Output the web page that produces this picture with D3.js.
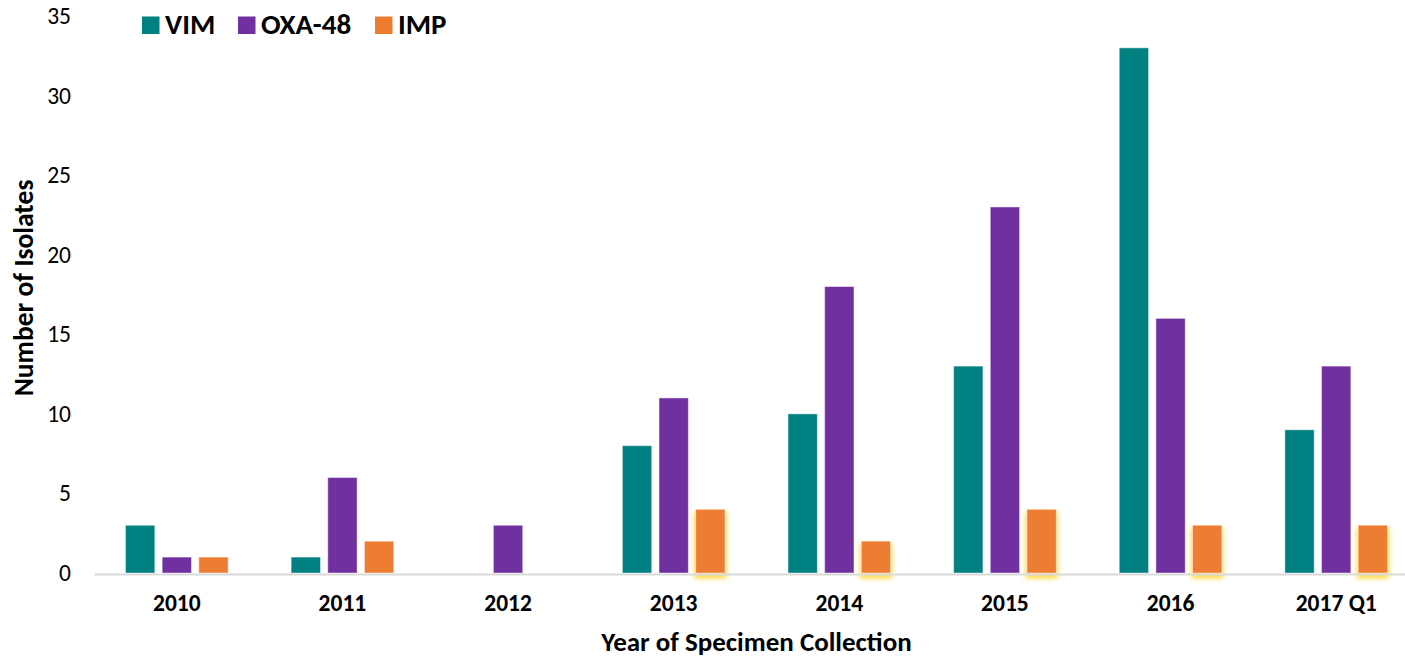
<!DOCTYPE html>
<html>
<head>
<meta charset="utf-8">
<script src="https://cdn.jsdelivr.net/npm/d3@7/dist/d3.min.js"></script>
<style>
  html, body { margin: 0; padding: 0; background: #fff; }
  svg { display: block; font-family: Carlito, Calibri, "Open Sans", sans-serif; }
</style>
</head>
<body>
<svg id="chart" width="1405" height="657"></svg>
<script>
// Carbapenemase isolates by year of specimen collection
const categories = ["2010", "2011", "2012", "2013", "2014", "2015", "2016", "2017 Q1"];
const seriesNames = ["VIM", "OXA-48", "IMP"];
const vimValues   = [3, 1, 0, 8, 10, 13, 33, 9];
const oxaValues   = [1, 6, 3, 11, 18, 23, 16, 13];
const impValues   = [1, 2, 0, 4, 2, 4, 3, 3];
const yTicks      = [0, 5, 10, 15, 20, 25, 30, 35];
const colors      = ["#008080", "#7030A0", "#ED7D31"];
// Categories whose IMP bars carry a highlight glow
const highlighted = ["2013", "2014", "2015", "2016", "2017 Q1"];

const seriesValues = [vimValues, oxaValues, impValues];
const rows = categories.map((c, i) => ({
  category: c,
  values: seriesNames.map((s, j) => ({ series: s, value: seriesValues[j][i], idx: j }))
}));

const svg = d3.select("#chart");
const plotLeft = 94, plotRight = 1419, plotTop = 16, plotBottom = 573;
const fontFamily = "Carlito, Calibri, 'Open Sans', sans-serif";

const x0 = d3.scaleBand().domain(categories).range([plotLeft, plotRight]).padding(0);
const groupPad = 31.5;
const x1 = d3.scaleBand().domain(seriesNames)
  .range([groupPad, x0.bandwidth() - groupPad]).paddingInner(0.2);
const y = d3.scaleLinear().domain([0, 35]).range([plotBottom, plotTop]);

// Soft yellow glow, shifted slightly downward, for highlighted bars
const defs = svg.append("defs");
const f = defs.append("filter").attr("id", "glow")
  .attr("x", "-40%").attr("y", "-20%").attr("width", "180%").attr("height", "150%");
f.append("feOffset").attr("in", "SourceAlpha").attr("dy", 4).attr("result", "o");
f.append("feMorphology").attr("in", "o").attr("operator", "dilate").attr("radius", 1).attr("result", "d");
f.append("feGaussianBlur").attr("in", "d").attr("stdDeviation", 2.6).attr("result", "b");
f.append("feFlood").attr("flood-color", "#FFD21F").attr("flood-opacity", 0.9).attr("result", "c");
f.append("feComposite").attr("in", "c").attr("in2", "b").attr("operator", "in").attr("result", "g");
const m = f.append("feMerge");
m.append("feMergeNode").attr("in", "g");
m.append("feMergeNode").attr("in", "SourceGraphic");

// Y axis tick labels (no axis line)
const yAxis = svg.append("g").attr("transform", `translate(${plotLeft},0)`)
  .call(d3.axisLeft(y).tickValues(yTicks).tickSize(0).tickPadding(23));
yAxis.select(".domain").remove();
yAxis.selectAll("text").attr("font-size", 23.5).attr("fill", "#000")
  .attr("font-family", fontFamily);

// Bars
const groups = svg.append("g").selectAll("g").data(rows).join("g")
  .attr("transform", d => `translate(${x0(d.category)},0)`);
groups.selectAll("rect").data(d => d.values.filter(v => v.value > 0).map(v => ({ ...v, category: d.category })))
  .join("rect")
  .attr("x", d => x1(d.series))
  .attr("y", d => y(d.value))
  .attr("width", x1.bandwidth())
  .attr("height", d => y(0) - y(d.value))
  .attr("fill", d => colors[d.idx])
  .attr("stroke", "rgba(255,255,255,0.45)")
  .attr("stroke-width", 1)
  .attr("filter", d => d.series === "IMP" && highlighted.includes(d.category) ? "url(#glow)" : null);

// X axis
const xAxis = svg.append("g").attr("transform", `translate(0,${plotBottom + 1})`)
  .call(d3.axisBottom(x0).tickSize(0));
xAxis.select(".domain").attr("stroke", "#D9D9D9").attr("stroke-width", 2);
xAxis.selectAll("text").attr("y", 37).attr("dy", null)
  .attr("font-size", 23.5).attr("font-weight", "bold").attr("fill", "#000")
  .attr("font-family", fontFamily);

// Axis titles
svg.append("text").attr("x", (plotLeft + plotRight) / 2).attr("y", 651)
  .attr("text-anchor", "middle").attr("font-size", 27).attr("font-weight", "bold")
  .text("Year of Specimen Collection");
svg.append("text").attr("transform", "translate(33,288) rotate(-90)")
  .attr("text-anchor", "middle").attr("font-size", 27.5).attr("font-weight", "bold")
  .text("Number of Isolates");

// Legend
const legendX = [142, 238, 375];
const legend = svg.append("g").selectAll("g").data(seriesNames).join("g")
  .attr("transform", (d, i) => `translate(${legendX[i]},16.5)`);
legend.append("rect").attr("width", 17.5).attr("height", 17.5).attr("fill", (d, i) => colors[i]);
legend.append("text").attr("x", 23).attr("y", 17.7)
  .attr("font-size", 29).attr("font-weight", "bold").text(d => d);
</script>
</body>
</html>
